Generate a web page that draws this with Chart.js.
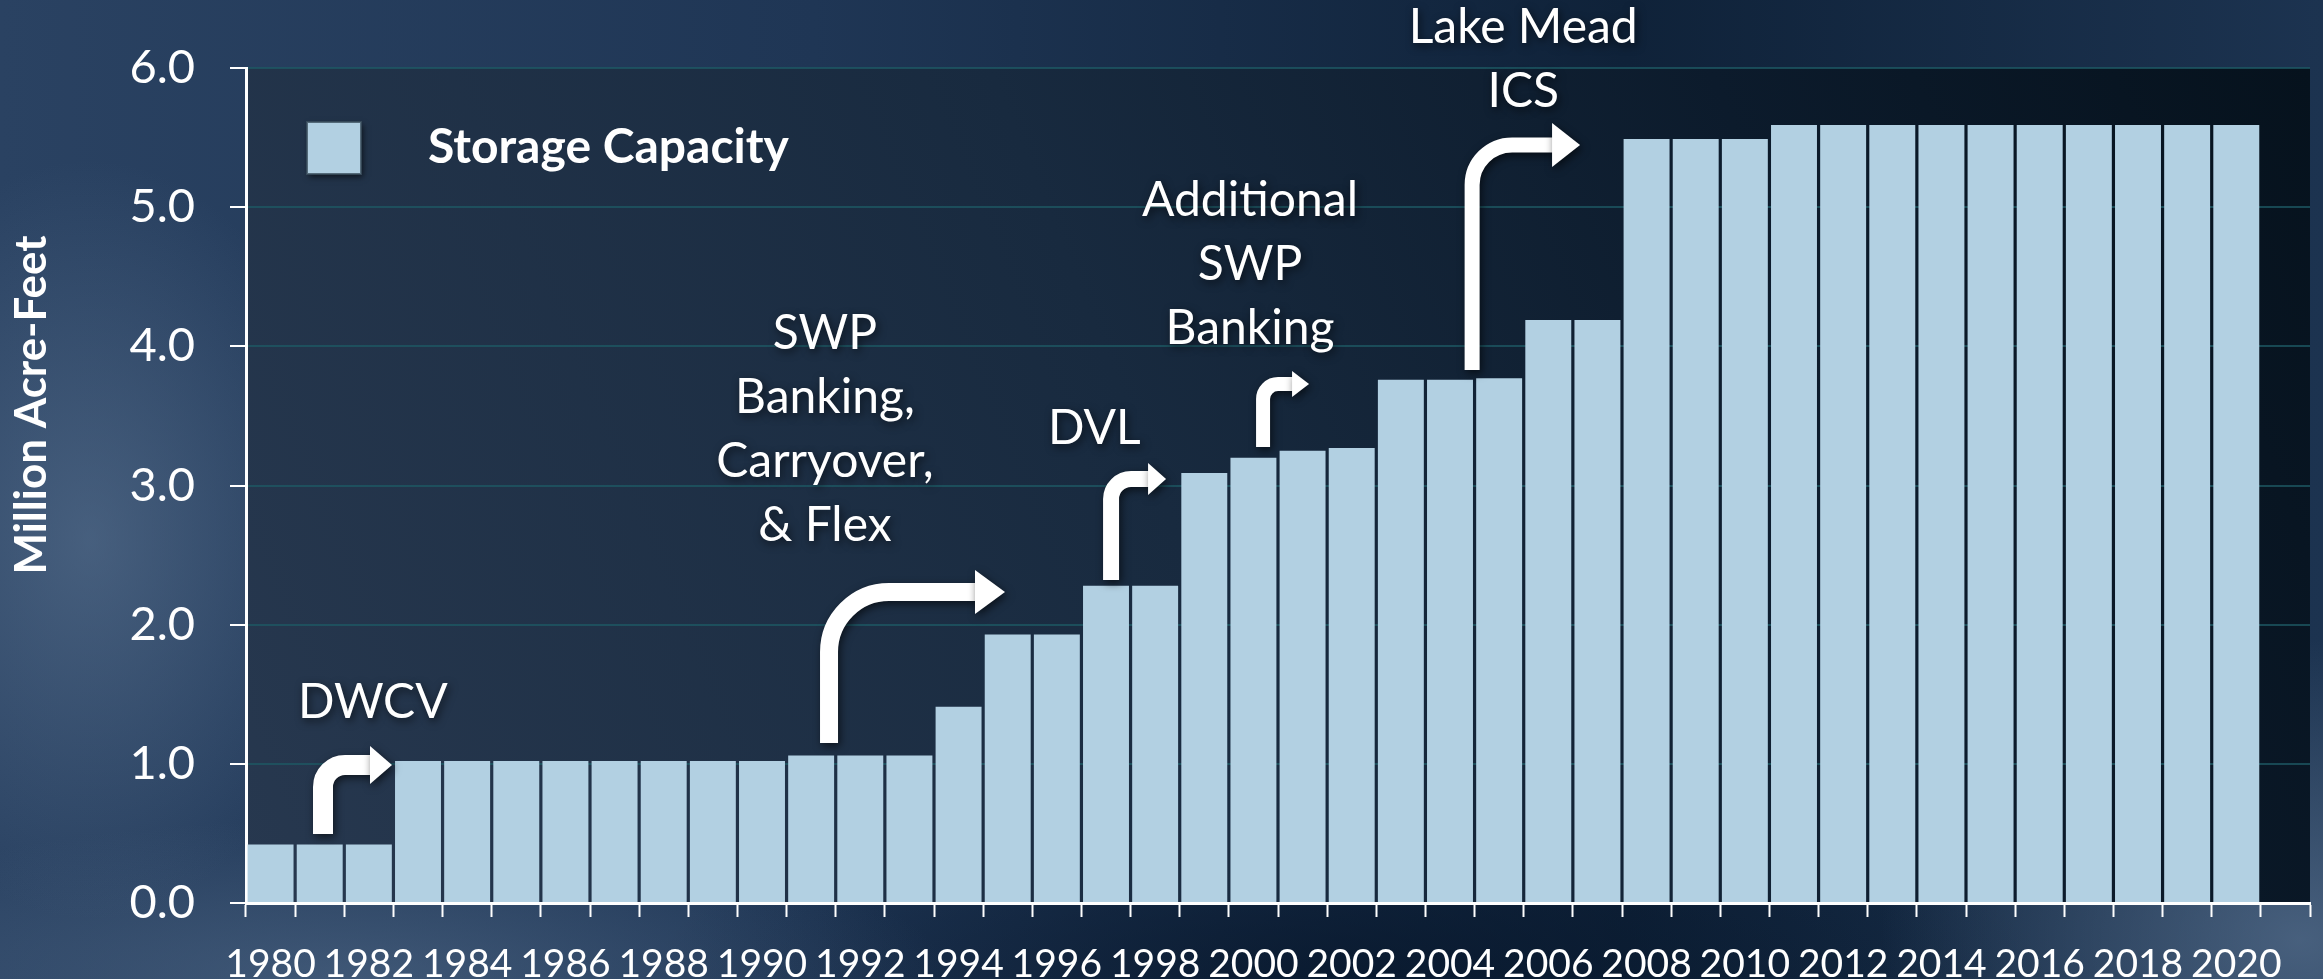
<!DOCTYPE html>
<html>
<head>
    <title>Storage Capacity</title>
    <style>
        body {
            margin: 0;
            background-color: #1f3553;
        }
        .chart-container {
            position: relative;
            width: 2323px;
            height: 979px;
            background:
                radial-gradient(ellipse 260px 380px at 90px 540px, rgba(95,120,150,0.55), rgba(95,120,150,0)),
                radial-gradient(ellipse 600px 160px at 350px 979px, rgba(85,110,140,0.55), rgba(85,110,140,0)),
                radial-gradient(ellipse 420px 300px at 2300px 940px, rgba(95,120,150,0.65), rgba(95,120,150,0)),
                radial-gradient(ellipse 700px 200px at 1350px 979px, rgba(5,20,40,0.7), rgba(5,20,40,0)),
                linear-gradient(to right, #2a4262 0%, #1f3655 35%, #0f2239 70%, #1c3350 100%);
        }
    </style>
    <script src="https://cdn.jsdelivr.net/npm/chart.js"></script>
</head>
<body>
    <div class="chart-container">
        <canvas id="storageChart"></canvas>
    </div>

    <script>
        // years on the x axis (2021 slot is left empty)
        const years = [];
        for (let y = 1980; y <= 2021; y++) years.push(String(y));

        // storage capacity, million acre-feet
        const storageCapacity = [
            0.42, 0.42, 0.42,                                 // 1980-1982
            1.02, 1.02, 1.02, 1.02, 1.02, 1.02, 1.02, 1.02,   // 1983-1990
            1.06, 1.06, 1.06,                                 // 1991-1993
            1.41,                                             // 1994
            1.93, 1.93,                                       // 1995-1996
            2.28, 2.28,                                       // 1997-1998
            3.09, 3.20, 3.25, 3.27,                           // 1999-2002
            3.76, 3.76, 3.77,                                 // 2003-2005
            4.19, 4.19,                                       // 2006-2007
            5.49, 5.49, 5.49,                                 // 2008-2010
            5.59, 5.59, 5.59, 5.59, 5.59,                     // 2011-2015
            5.59, 5.59, 5.59, 5.59, 5.59,                     // 2016-2020
            null                                              // 2021
        ];

        const yTicks = [0, 1, 2, 3, 4, 5, 6];

        // callouts: x is a category index, y is a value on the axis
        const callouts = [
            { lines: ['DWCV'], x: 2.08, y: 1.44 },
            { lines: ['SWP', 'Banking,', 'Carryover,', '& Flex'], x: 11.28, y: 4.09 },
            { lines: ['DVL'], x: 16.76, y: 3.41 },
            { lines: ['Additional', 'SWP', 'Banking'], x: 19.93, y: 5.05 },
            { lines: ['Lake Mead', 'ICS'], x: 25.49, y: 6.29 }
        ];
        const arrows = [
            { x: 1.067, bottom: 0.496, level: 0.992, tip: 2.471, w: 20, r: 22, head: 22, half: 19 },
            { x: 11.364, bottom: 1.150, level: 2.235, tip: 14.945, w: 18, r: 60, head: 30, half: 22 },
            { x: 17.103, bottom: 2.321, level: 3.047, tip: 18.222, w: 16, r: 20, head: 18, half: 16 },
            { x: 20.196, bottom: 3.277, level: 3.729, tip: 21.132, w: 14, r: 15, head: 17, half: 13 },
            { x: 24.45, bottom: 3.830, level: 5.447, tip: 26.647, w: 15, r: 40, head: 28, half: 22 }
        ];

        const barColor = '#b2d0e2';
        const fontFamily = 'Lato, "Open Sans", sans-serif';

        const decorPlugin = {
            id: 'decor',
            beforeDraw(chart) {
                const { ctx, chartArea: a } = chart;
                ctx.save();
                let g = ctx.createLinearGradient(a.left, a.bottom, a.right, a.top);
                g.addColorStop(0, '#27384f');
                g.addColorStop(0.45, '#182a3f');
                g.addColorStop(0.75, '#0c1b2c');
                g.addColorStop(1, '#06121d');
                ctx.fillStyle = g;
                ctx.fillRect(a.left, a.top, a.right - a.left, a.bottom - a.top);
                ctx.restore();
            },
            afterDatasetsDraw(chart) {
                const { ctx, chartArea: a } = chart;
                const xs = chart.scales.x, ys = chart.scales.y;

                ctx.save();
                ctx.shadowColor = 'rgba(0,0,0,0.6)';
                ctx.shadowBlur = 8;
                ctx.shadowOffsetX = 2;
                ctx.shadowOffsetY = 3;

                // bent arrows
                ctx.strokeStyle = '#ffffff';
                ctx.fillStyle = '#ffffff';
                arrows.forEach(ar => {
                    const sx = xs.getPixelForValue(ar.x);
                    const by = ys.getPixelForValue(ar.bottom);
                    const hy = ys.getPixelForValue(ar.level);
                    const tx = xs.getPixelForValue(ar.tip);
                    ctx.lineWidth = ar.w;
                    ctx.lineCap = 'butt';
                    ctx.beginPath();
                    ctx.moveTo(sx, by);
                    ctx.lineTo(sx, hy + ar.r);
                    ctx.arcTo(sx, hy, sx + ar.r, hy, ar.r);
                    ctx.lineTo(tx - ar.head + 1, hy);
                    ctx.stroke();
                    ctx.beginPath();
                    ctx.moveTo(tx - ar.head, hy - ar.half);
                    ctx.lineTo(tx, hy);
                    ctx.lineTo(tx - ar.head, hy + ar.half);
                    ctx.closePath();
                    ctx.fill();
                });

                // callout text
                ctx.font = '48px ' + fontFamily;
                ctx.textAlign = 'center';
                ctx.textBaseline = 'middle';
                callouts.forEach(c => {
                    const cx = xs.getPixelForValue(c.x);
                    const cy = ys.getPixelForValue(c.y);
                    c.lines.forEach((t, i) => ctx.fillText(t, cx, cy + i * 64));
                });

                // legend
                ctx.shadowBlur = 6;
                ctx.fillStyle = barColor;
                ctx.fillRect(a.left + 61, a.top + 54, 54, 52);
                ctx.shadowColor = 'rgba(0,0,0,0)';
                ctx.strokeStyle = 'rgba(60,80,95,0.8)';
                ctx.lineWidth = 2;
                ctx.strokeRect(a.left + 61, a.top + 54, 54, 52);
                ctx.fillStyle = '#ffffff';
                ctx.textAlign = 'left';
                ctx.font = 'bold 48px ' + fontFamily;
                ctx.fillText(chart.data.datasets[0].label, a.left + 182, a.top + 80);

                // y axis title
                ctx.translate(32, 405);
                ctx.rotate(-Math.PI / 2);
                ctx.textAlign = 'center';
                ctx.font = 'bold 44px ' + fontFamily;
                ctx.fillText('Million Acre-Feet', 0, 0);
                ctx.restore();
            }
        };

        const storageChart = new Chart(
            document.getElementById('storageChart'),
            {
                type: 'bar',
                data: {
                    labels: years,
                    datasets: [
                        {
                            label: 'Storage Capacity',
                            data: storageCapacity,
                            backgroundColor: barColor,
                            borderWidth: 0,
                            barPercentage: 0.935,
                            categoryPercentage: 1.0
                        }
                    ]
                },
                options: {
                    maintainAspectRatio: false,
                    responsive: true,
                    animation: false,
                    layout: {
                        padding: { top: 68, right: 13, bottom: 0, left: 0 }
                    },
                    plugins: {
                        legend: { display: false },
                        tooltip: { enabled: false }
                    },
                    scales: {
                        x: {
                            offset: true,
                            afterFit: s => { s.height = 76; },
                            border: { color: '#ffffff', width: 3 },
                            grid: {
                                offset: true,
                                drawOnChartArea: false,
                                tickLength: 14,
                                tickColor: '#ffffff',
                                tickWidth: 2
                            },
                            ticks: {
                                autoSkip: false,
                                maxRotation: 0,
                                padding: 24,
                                color: '#ffffff',
                                font: { family: fontFamily, size: 39 },
                                callback: function (v, i) {
                                    const y = Number(years[i]);
                                    return (y % 2 === 0 && y <= 2020) ? years[i] : '';
                                }
                            }
                        },
                        y: {
                            min: yTicks[0],
                            max: yTicks[yTicks.length - 1],
                            afterFit: s => { s.width = 246; },
                            afterBuildTicks: s => { s.ticks = yTicks.map(v => ({ value: v })); },
                            border: { color: '#ffffff', width: 3 },
                            grid: {
                                color: 'rgba(30,90,100,0.75)',
                                lineWidth: 2,
                                tickLength: 16,
                                tickColor: '#ffffff',
                                tickWidth: 2
                            },
                            ticks: {
                                padding: 35,
                                color: '#ffffff',
                                font: { family: fontFamily, size: 47 },
                                callback: v => v.toFixed(1)
                            }
                        }
                    }
                },
                plugins: [decorPlugin]
            }
        );
    </script>
</body>
</html>
